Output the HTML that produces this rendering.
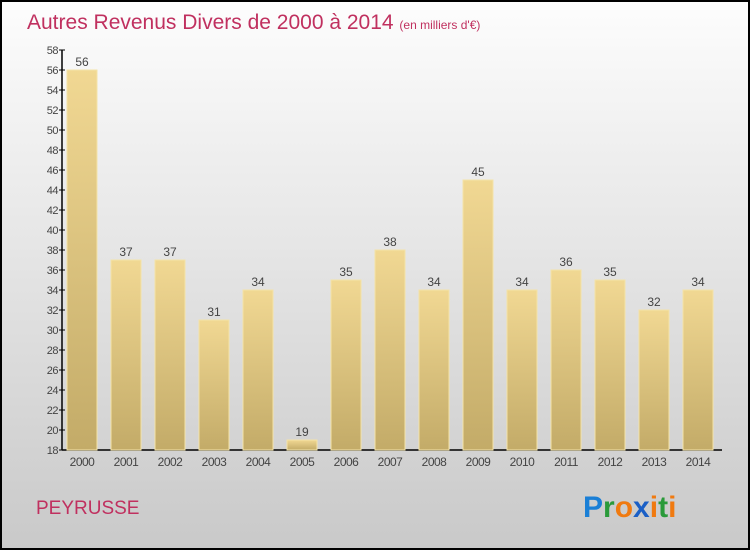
<!DOCTYPE html>
<html><head><meta charset="utf-8"><style>
html,body{margin:0;padding:0;}
body{width:750px;height:550px;overflow:hidden;font-family:"Liberation Sans",sans-serif;}
</style></head><body>
<svg id="chart" width="750" height="550" xmlns="http://www.w3.org/2000/svg">
<defs>
<linearGradient id="bg" x1="0" y1="0" x2="0" y2="1"><stop offset="0" stop-color="#fdfdfd"/><stop offset="1" stop-color="#c9c9c9"/></linearGradient>
<linearGradient id="bar" x1="0" y1="0" x2="0" y2="1"><stop offset="0" stop-color="#f1d893"/><stop offset="1" stop-color="#c3ab68"/></linearGradient>
</defs>
<rect x="1" y="1" width="748" height="548" fill="url(#bg)" stroke="#000" stroke-width="2"/>
<text x="27" y="29" font-size="21" fill="#c0305f">Autres Revenus Divers de 2000 à 2014 <tspan font-size="12">(en milliers d'€)</tspan></text>
<g id="axes"></g>
<g id="bars"></g>
<text x="36" y="514" font-size="19" fill="#c0305f">PEYRUSSE</text>
<g font-size="30" font-weight="bold" font-family="Liberation Sans, sans-serif">
<text x="583" y="517"><tspan fill="#1a7fd6">P</tspan><tspan fill="#2a9a3a">r</tspan><tspan fill="#f07a10">o</tspan><tspan fill="#1a5fc6">x</tspan><tspan fill="#f07a10">i</tspan><tspan fill="#2a9a3a">t</tspan><tspan fill="#f07a10">i</tspan></text>
</g>
</svg>
<script>
const categories=["2000","2001","2002","2003","2004","2005","2006","2007","2008","2009","2010","2011","2012","2013","2014"];
const values=[56,37,37,31,34,19,35,38,34,45,34,36,35,32,34];
const yTicks=[18,20,22,24,26,28,30,32,34,36,38,40,42,44,46,48,50,52,54,56,58];
const NS="http://www.w3.org/2000/svg";
const yMin=18,yMax=58,yTop=50,yBottom=450,xLeft=62,xRight=722;
function y(v){return yBottom-(v-yMin)/(yMax-yMin)*(yBottom-yTop);}
function x(i){return 82+i*44;}
function mk(tag,attrs,parent,text){const e=document.createElementNS(NS,tag);for(const k in attrs)e.setAttribute(k,attrs[k]);if(text!==undefined)e.textContent=text;parent.appendChild(e);return e;}
const axes=document.getElementById('axes'),bars=document.getElementById('bars');
let e=mk('line',{x1:xLeft,y1:yTop,x2:xLeft,y2:yBottom,stroke:'#000','stroke-width':1.5},axes);


e=mk('line',{x1:xLeft,y1:yBottom,x2:xRight,y2:yBottom,stroke:'#000','stroke-width':1.5},axes);


yTicks.forEach(t=>{
 const tk=mk('line',{x1:xLeft-3,y1:y(t),x2:xLeft+3,y2:y(t),stroke:'#000'},axes);
 
 
 const lb=mk('text',{x:xLeft-4,y:y(t)+4,'font-size':11,fill:'#444','text-anchor':'end','letter-spacing':'-0.5'},axes,String(t));
 
 
});
categories.forEach((c,i)=>{
 const r=mk('rect',{x:x(i)-15,y:y(values[i]),width:30,height:yBottom-y(values[i]),fill:'url(#bar)',stroke:'#f4e3a8','stroke-width':1},bars);
 
 
 const v=mk('text',{x:x(i),y:y(values[i])-4,'font-size':12,fill:'#444','text-anchor':'middle'},bars,String(values[i]));
 
 
 const l=mk('text',{x:x(i),y:466,'font-size':12,fill:'#444','text-anchor':'middle','letter-spacing':'-0.5'},axes,c);
 
 
});
</script>
</body></html>
